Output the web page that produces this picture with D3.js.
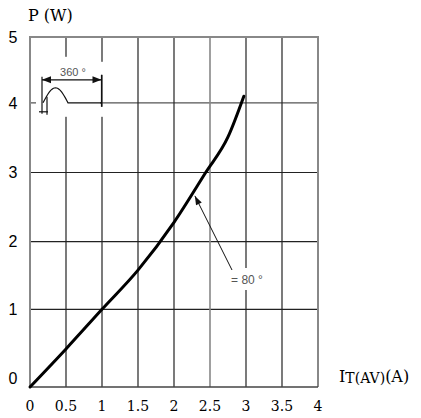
<!DOCTYPE html>
<html>
<head>
<meta charset="utf-8">
<script src="https://cdn.jsdelivr.net/npm/d3@7"></script>
<style>
  body { margin: 0; background: #fff; }
</style>
</head>
<body>
<div id="chart"></div>
<script>
// average current (A) vs power dissipation (W)
var current = [0, 0.5, 1.0, 1.5, 2.0, 2.44, 2.75, 2.97];
var power = [0, 0.49, 1.0, 1.58, 2.28, 3.0, 3.51, 4.1];
var xTicks = [0, 0.5, 1, 1.5, 2, 2.5, 3, 3.5, 4];
var xTickLabels = ["0", "0.5", "1", "1.5", "2", "2.5", "3", "3.5", "4"];
var yTicks = [0, 1, 2, 3, 4, 5];
var yTickLabels = ["0", "1", "2", "3", "4", "5"];

var width = 421;
var height = 418;

// the scanned grid is not evenly spaced, so the y scale is piecewise
var x = d3.scaleLinear().domain([0, 4]).range([30, 318]);
var y = d3.scaleLinear().domain(yTicks).range([387, 309.3, 241.7, 172.5, 102.8, 37]);

var svg = d3.select("#chart").append("svg")
  .attr("width", width).attr("height", height);

// grid
svg.append("g").selectAll("line").data(yTicks.slice(1, 5)).enter().append("line")
  .attr("x1", x(0)).attr("x2", x(4))
  .attr("y1", function (d) { return y(d); }).attr("y2", function (d) { return y(d); })
  .attr("stroke", function (d) { return d === 4 ? "#555" : "#222"; })
  .attr("stroke-width", 1.2);

svg.append("g").selectAll("line").data(xTicks.slice(1, 8)).enter().append("line")
  .attr("x1", function (d) { return x(d); }).attr("x2", function (d) { return x(d); })
  .attr("y1", y(5)).attr("y2", y(0))
  .attr("stroke", function (d) { return d === 2.5 ? "#888" : "#222"; })
  .attr("stroke-width", function (d) { return d === 2.5 ? 1.6 : 1.2; });

// frame
svg.append("path")
  .attr("d", "M" + x(0) + "," + y(0) + "V" + y(5) + "H" + x(4) + "V" + y(0))
  .attr("fill", "none").attr("stroke", "#888").attr("stroke-width", 2);
svg.append("line")
  .attr("x1", x(0)).attr("x2", x(4)).attr("y1", y(0)).attr("y2", y(0))
  .attr("stroke", "#444").attr("stroke-width", 1.5);

// tick labels
svg.append("g").selectAll("text").data(xTicks).enter().append("text")
  .attr("x", function (d) { return x(d); })
  .attr("y", 411)
  .attr("text-anchor", "middle")
  .attr("font-family", "DejaVu Serif")
  .attr("font-size", 14)
  .attr("fill", "#000")
  .text(function (d, i) { return xTickLabels[i]; });

svg.append("g").selectAll("text").data(yTicks).enter().append("text")
  .attr("x", 13)
  .attr("y", function (d) { return d === 0 ? y(d) - 9 : y(d); })
  .attr("dy", "0.36em")
  .attr("text-anchor", "middle")
  .attr("font-family", "Liberation Sans")
  .attr("font-size", 16)
  .attr("fill", "#000")
  .text(function (d, i) { return yTickLabels[i]; });

// axis titles
svg.append("text")
  .attr("x", 28).attr("y", 21)
  .attr("font-family", "DejaVu Serif")
  .attr("font-size", 16)
  .attr("fill", "#000")
  .text("P (W)");

var xt = svg.append("text")
  .attr("x", 339).attr("y", 382)
  .attr("font-family", "DejaVu Serif")
  .attr("font-size", 16)
  .attr("fill", "#000");
xt.append("tspan").text("I");
xt.append("tspan").attr("font-size", 14).attr("dy", 1).text("T(AV)");
xt.append("tspan").attr("dy", -1).text("(A)");

// inset: conduction angle sketch
var ix = x(0), iy = y(4);
svg.append("rect")
  .attr("x", ix + 6).attr("y", iy - 46).attr("width", 64).attr("height", 60)
  .attr("fill", "#fff");
svg.append("rect")
  .attr("x", x(1) - 3).attr("y", iy - 41).attr("width", 6).attr("height", 13).attr("fill", "#fff");
svg.append("rect")
  .attr("x", x(1) - 3).attr("y", iy + 4).attr("width", 6).attr("height", 10).attr("fill", "#fff");

var inset = svg.append("g").attr("stroke", "#111").attr("fill", "none").attr("stroke-width", 1.2);
inset.append("line").attr("x1", ix + 12).attr("x2", ix + 12).attr("y1", iy - 26).attr("y2", iy + 11);
inset.append("line").attr("x1", x(1) - 0.5).attr("x2", x(1) - 0.5).attr("y1", iy - 28).attr("y2", iy + 4);
inset.append("line").attr("x1", ix + 17).attr("x2", ix + 17).attr("y1", iy - 6).attr("y2", iy + 12);
inset.append("line").attr("x1", ix + 9).attr("x2", ix + 18).attr("y1", iy + 9).attr("y2", iy + 9);

var hump = d3.range(0, 21).map(function (k) {
  var t = k / 20;
  return [ix + 13 + 25 * t, iy - 15 * Math.sin(Math.PI * t)];
});
hump.push([x(1) - 0.5, iy]);
inset.append("path").attr("d", d3.line()(hump));

// dimension line with two arrowheads
inset.append("line").attr("x1", ix + 12).attr("x2", x(1) - 0.5).attr("y1", iy - 23).attr("y2", iy - 23);
svg.append("path")
  .attr("d", "M" + (ix + 12) + "," + (iy - 23) + "l9,-3.5v7z")
  .attr("fill", "#111");
svg.append("path")
  .attr("d", "M" + (x(1) - 0.5) + "," + (iy - 23) + "l-9,-3.5v7z")
  .attr("fill", "#111");
svg.append("text")
  .attr("x", ix + 43).attr("y", iy - 27)
  .attr("text-anchor", "middle")
  .attr("font-family", "Liberation Sans")
  .attr("font-size", 11)
  .attr("fill", "#555")
  .text("360 °");

// curve
var line = d3.line()
  .x(function (d) { return x(d[0]); })
  .y(function (d) { return y(d[1]); })
  .curve(d3.curveMonotoneX);

svg.append("path")
  .datum(d3.zip(current, power))
  .attr("d", line)
  .attr("fill", "none")
  .attr("stroke", "#000")
  .attr("stroke-width", 3)
  .attr("stroke-linecap", "round");

// 80 degree annotation
var tipX = x(2.29), tipY = y(2.72) + 4;
svg.append("rect")
  .attr("x", 228).attr("y", 268).attr("width", 40).attr("height", 22)
  .attr("fill", "#fff");
svg.append("line")
  .attr("x1", 232).attr("y1", 270).attr("x2", tipX).attr("y2", tipY)
  .attr("stroke", "#111").attr("stroke-width", 1);
var ang = Math.atan2(270 - tipY, 232 - tipX) * 180 / Math.PI;
svg.append("path")
  .attr("d", "M0,0L9,-3.2L9,3.2Z")
  .attr("transform", "translate(" + tipX + "," + tipY + ") rotate(" + ang + ")")
  .attr("fill", "#111");
svg.append("text")
  .attr("x", 247).attr("y", 284)
  .attr("text-anchor", "middle")
  .attr("font-family", "Liberation Sans")
  .attr("font-size", 12)
  .attr("fill", "#555")
  .text("= 80 °");
</script>
</body>
</html>
